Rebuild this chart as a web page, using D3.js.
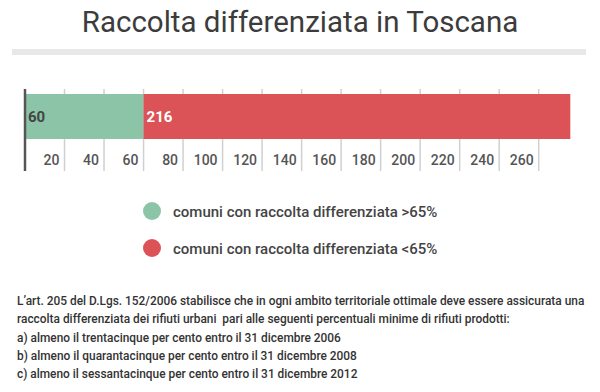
<!DOCTYPE html>
<html><head><meta charset="utf-8">
<script src="https://cdn.jsdelivr.net/npm/d3@7"></script>
<style>
html,body{margin:0;padding:0;background:#fff;}
svg{display:block;font-family:Roboto,"Noto Sans",sans-serif;}
</style></head>
<body><svg id="c" width="600" height="392"></svg>
<script>
const title = "Raccolta differenziata in Toscana";
const seriesNames = ["comuni con raccolta differenziata >65%", "comuni con raccolta differenziata <65%"];
const seriesValues = [60, 216];
const seriesColors = ["#8cc4a8", "#db5356"];
const labelColors = ["#444", "#fff"];
const tickValues = [20, 40, 60, 80, 100, 120, 140, 160, 180, 200, 220, 240, 260];
const notes = [
  "L’art. 205 del D.Lgs. 152/2006 stabilisce che in ogni ambito territoriale ottimale deve essere assicurata una",
  "raccolta differenziata dei rifiuti urbani  pari alle seguenti percentuali minime di rifiuti prodotti:",
  "a) almeno il trentacinque per cento entro il 31 dicembre 2006",
  "b) almeno il quarantacinque per cento entro il 31 dicembre 2008",
  "c) almeno il sessantacinque per cento entro il 31 dicembre 2012"
];

const svg = d3.select("#c");
svg.append("text").attr("x", 300).attr("y", 32).attr("text-anchor", "middle")
  .attr("font-size", 29.5).attr("font-weight", 400).attr("fill", "#3c3c3c").text(title);
svg.append("rect").attr("x", 12).attr("y", 49).attr("width", 574).attr("height", 6).attr("fill", "#e8e8e8");

const x = d3.scaleLinear().domain([0, 260]).range([25, 538.7]);
const gTop = 89, gBot = 171, barY = 94, barH = 45;

// gridlines + tick labels
const axis = svg.append("g");
axis.selectAll("line.grid").data(tickValues).join("line")
  .attr("x1", d => x(d)).attr("x2", d => x(d)).attr("y1", gTop).attr("y2", gBot)
  .attr("stroke", "#d0d0d0").attr("stroke-width", 1.5);
axis.selectAll("text.tick").data(tickValues).join("text")
  .attr("x", d => x(d) - 5).attr("y", 165).attr("text-anchor", "end")
  .attr("font-size", 14).attr("font-weight", 500).attr("fill", "#555").text(d => d);

// stacked bars
const stack = seriesValues.map((v, i) => ({v, i, x0: d3.sum(seriesValues.slice(0, i))}));
svg.selectAll("rect.bar").data(stack).join("rect")
  .attr("x", d => x(d.x0)).attr("y", barY)
  .attr("width", d => x(d.x0 + d.v) - x(d.x0)).attr("height", barH)
  .attr("fill", d => seriesColors[d.i]);
svg.selectAll("text.bl").data(stack).join("text")
  .attr("x", d => x(d.x0) + 3).attr("y", 122).attr("font-size", 15).attr("font-weight", 700)
  .attr("fill", d => labelColors[d.i]).text(d => d.v);

// axis line
svg.append("line").attr("x1", x(0)).attr("x2", x(0)).attr("y1", gTop).attr("y2", gBot)
  .attr("stroke", "#555").attr("stroke-width", 2.5);

// legend
const leg = svg.selectAll("g.leg").data(seriesNames).join("g")
  .attr("transform", (d, i) => `translate(152,${211 + i * 37})`);
leg.append("circle").attr("r", 9).attr("fill", (d, i) => seriesColors[i]);
leg.append("text").attr("x", 21).attr("y", 5.5).attr("font-size", 15).attr("font-weight", 500)
  .attr("fill", "#444").text(d => d);

// notes
svg.selectAll("text.note").data(notes).join("text")
  .attr("x", 17).attr("y", (d, i) => 305 + i * 18.3).attr("font-size", 11.9).attr("font-weight", 500)
  .attr("fill", "#333").style("white-space", "pre").text(d => d);
</script></body></html>
